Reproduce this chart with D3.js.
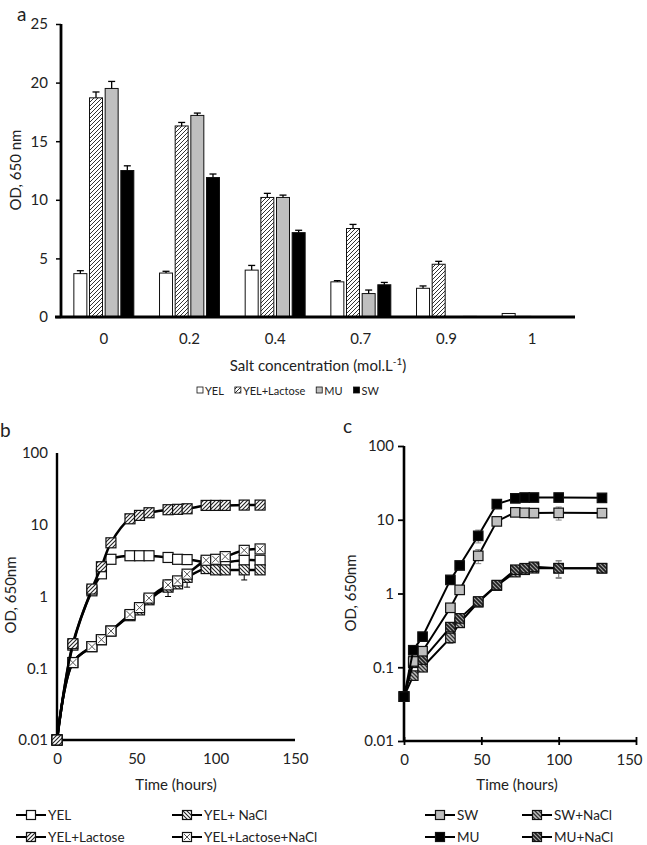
<!DOCTYPE html>
<html><head><meta charset="utf-8">
<script src="https://cdn.jsdelivr.net/npm/d3@7"></script>
<style>
body{margin:0;background:#fff}
svg{display:block}
text{font-family:Lato,"Open Sans",sans-serif;fill:#222}
</style>
</head><body>
<svg id="chart" width="647" height="845"></svg>
<script>
// ---------- Panel a data ----------
const saltLabels = ["0","0.2","0.4","0.7","0.9","1"];
const barSeries = ["YEL","YEL+Lactose","MU","SW"];
const yelBars     = [3.7, 3.75, 4.0, 3.0, 2.45, 0.3];
const yelLacBars  = [18.7, 16.3, 10.2, 7.55, 4.5, 0.05];
const muBars      = [19.5, 17.2, 10.2, 2.0, 0, 0];
const swBars      = [12.5, 11.9, 7.2, 2.75, 0.05, 0];
const yelBarErr    = [0.25, 0.15, 0.4, 0.1, 0.2, 0];
const yelLacBarErr = [0.5, 0.3, 0.35, 0.35, 0.25, 0];
const muBarErr     = [0.6, 0.2, 0.2, 0.3, 0, 0];
const swBarErr     = [0.4, 0.3, 0.2, 0.2, 0, 0];
const barTicks = [0, 5, 10, 15, 20, 25];

// ---------- Panel b data ----------
const timeB = [0,10,22,28,34,46,52,58,70,76,82,94,100,106,118,128];
const yelB        = [0.01,0.21,1.2,2.07,3.3,3.7,3.7,3.7,3.5,3.3,3.27,3.0,2.9,3.0,3.2,3.2];
const yelNaClB    = [0.01,0.12,0.2,0.25,0.33,0.54,0.65,0.9,1.35,1.5,1.85,2.45,2.35,2.35,2.35,2.35];
const yelLacB     = [0.01,0.22,1.27,2.6,5.6,12.1,13.5,14.7,16.2,16.4,16.7,18.6,18.6,18.6,18.8,18.8];
const yelLacNaClB = [0.01,0.12,0.2,0.25,0.33,0.56,0.7,0.95,1.45,1.65,2.05,3.2,3.3,3.6,4.4,4.6];
const yelErrB        = [0,0,0,0,0,0,0,0,0,0,0,0,0,0,1.5,0];
const yelNaClErrB    = [0,0,0,0,0,0,0.08,0.1,0.35,0.2,0.5,0,0,0,0,0];
const yelLacErrB     = [0,0,0,0,0,0,0,0,0,0,0,0,0,0,0,0];
const yelLacNaClErrB = [0,0,0,0,0,0,0,0.05,0,0,0,0,0,0,0,0];

// ---------- Panel c data ----------
const timeC = [0,6,12,30,36,48,60,72,78,84,100,128];
const swC     = [0.04,0.12,0.165,0.64,1.12,3.24,9.5,12.6,12.4,12.3,12.4,12.3];
const muC     = [0.04,0.17,0.26,1.53,2.4,6.05,16.3,19.5,20,20,20,19.8];
const swNaClC = [0.04,0.077,0.1,0.25,0.4,0.76,1.28,1.95,2.1,2.2,2.2,2.2];
const muNaClC = [0.04,0.115,0.127,0.35,0.46,0.78,1.3,2.1,2.2,2.3,2.2,2.2];
const swErrC     = [0,0,0,0.05,0.1,0.7,1.0,0.8,0.6,0,2.5,0];
const muErrC     = [0,0,0,0,0,1.2,1.5,2.0,2.5,0,1.5,0];
const swNaClErrC = [0,0,0,0.04,0,0.08,0,0.15,0,0,0.6,0];
const muNaClErrC = [0,0,0,0,0,0.1,0,0,0,0,0.55,0];

const logTicks = [0.01, 0.1, 1, 10, 100];
const logTickLabels = ["0.01", "0.1", "1", "10", "100"];
const timeTicks = [0, 50, 100, 150];

// ---------- setup ----------
const svg = d3.select("#chart");
const defs = svg.append("defs");
function hatch(id, d, bg, stroke, sw, size) {
  const p = defs.append("pattern").attr("id", id).attr("patternUnits", "userSpaceOnUse")
    .attr("width", size).attr("height", size);
  p.append("rect").attr("width", size).attr("height", size).attr("fill", bg);
  p.append("path").attr("d", d).attr("stroke", stroke).attr("stroke-width", sw).attr("fill", "none");
}
const fwd = s => `M-1,1 l2,-2 M0,${s} l${s},${-s} M${s-1},${s+1} l2,-2`;
const back = s => `M-1,${s-1} l2,2 M0,0 l${s},${s} M${s-1},-1 l2,2`;
hatch("barHatch", fwd(4), "#fff", "#333", 1, 4);
hatch("mkFwd", fwd(4), "#fff", "#222", 1.1, 4);
hatch("mkBack", back(4), "#fff", "#222", 1.1, 4);
hatch("mkSwNa", back(4), "#bfbfbf", "#333", 1.3, 4);
hatch("mkMuNa", back(4), "#1e1e1e", "#a0a0a0", 1.2, 4);

function panelLabel(t, x, y) {
  svg.append("text").attr("x", x).attr("y", y).attr("font-size", 19).text(t);
}

// ================= Panel a =================
const yA = d3.scaleLinear().domain([0, 25]).range([317, 24]);
const x0 = d3.scaleBand().domain(saltLabels).range([61, 575]).paddingInner(0.3).paddingOuter(0.15);
const x1 = d3.scaleBand().domain(barSeries).range([0, x0.bandwidth()]).paddingInner(0.17).paddingOuter(0);
const barVals = [yelBars, yelLacBars, muBars, swBars];
const barErrs = [yelBarErr, yelLacBarErr, muBarErr, swBarErr];
const barFill = {"YEL": "#fff", "YEL+Lactose": "url(#barHatch)", "MU": "#bfbfbf", "SW": "#000"};

panelLabel("a", 17, 21);

const gA = svg.append("g");
barSeries.forEach((s, si) => {
  const rows = saltLabels.map((c, ci) => ({c, v: barVals[si][ci], e: barErrs[si][ci]}));
  gA.selectAll(null).data(rows.filter(d => d.v > 0)).join("rect")
    .attr("x", d => x0(d.c) + x1(s))
    .attr("y", d => yA(d.v))
    .attr("width", x1.bandwidth())
    .attr("height", d => yA(0) - yA(d.v))
    .attr("fill", barFill[s]).attr("stroke", "#111").attr("stroke-width", 1);
  const eg = gA.selectAll(null).data(rows.filter(d => d.e > 0)).join("g");
  eg.append("line")
    .attr("x1", d => x0(d.c) + x1(s) + x1.bandwidth() / 2)
    .attr("x2", d => x0(d.c) + x1(s) + x1.bandwidth() / 2)
    .attr("y1", d => yA(d.v)).attr("y2", d => yA(d.v + d.e))
    .attr("stroke", "#000").attr("stroke-width", 1.3);
  eg.append("line")
    .attr("x1", d => x0(d.c) + x1(s) + x1.bandwidth() / 2 - 3.5)
    .attr("x2", d => x0(d.c) + x1(s) + x1.bandwidth() / 2 + 3.5)
    .attr("y1", d => yA(d.v + d.e)).attr("y2", d => yA(d.v + d.e))
    .attr("stroke", "#000").attr("stroke-width", 1.3);
});

// y axis a
const axA = svg.append("g").attr("transform", "translate(61,0)")
  .call(d3.axisLeft(yA).tickValues(barTicks).tickSize(5).tickPadding(8));
axA.select(".domain").remove();
axA.selectAll(".tick line").attr("stroke", "#000").attr("stroke-width", 1.5);
axA.selectAll("text").attr("font-size", 15).attr("font-family", "Lato").attr("fill", "#222");
svg.append("line").attr("x1", 61).attr("x2", 61).attr("y1", yA(25)).attr("y2", yA(0))
  .attr("stroke", "#000").attr("stroke-width", 2.8);
// x axis a
const axAx = svg.append("g").attr("transform", `translate(0,${yA(0)})`)
  .call(d3.axisBottom(x0).tickSize(0).tickPadding(16));
axAx.select(".domain").remove();
axAx.selectAll("text").attr("font-size", 15).attr("font-family", "Lato").attr("fill", "#222");
svg.append("line").attr("x1", 55).attr("x2", 575).attr("y1", yA(0)).attr("y2", yA(0))
  .attr("stroke", "#000").attr("stroke-width", 2.8);

const salt = svg.append("text").attr("x", 318).attr("y", 371).attr("text-anchor", "middle")
  .attr("font-size", 15);
salt.append("tspan").text("Salt concentration (mol.L");
salt.append("tspan").attr("font-size", 10).attr("dy", -6).text("-1");
salt.append("tspan").attr("dy", 6).text(")");

svg.append("text").attr("transform", "translate(21,170) rotate(-90)").attr("text-anchor", "middle")
  .attr("font-size", 15).text("OD, 650 nm");

// legend a
{
  let lx = 197;
  barSeries.forEach(s => {
    svg.append("rect").attr("x", lx).attr("y", 387).attr("width", 6).attr("height", 6)
      .attr("fill", s === "YEL+Lactose" ? "url(#barHatch)" : barFill[s]).attr("stroke", "#111").attr("stroke-width", 0.8);
    const t = svg.append("text").attr("x", lx + 8).attr("y", 394.5).attr("font-size", 11).text(s);
    lx += 8 + t.node().getComputedTextLength() + 11;
  });
}

// ---------- marker helper ----------
function marker(g, cx, cy, size, style) {
  const h = size / 2;
  const fills = {white: "#fff", fwd: "url(#mkFwd)", back: "url(#mkBack)", xbox: "#fff",
    grey: "#bfbfbf", black: "#000", swna: "url(#mkSwNa)", muna: "url(#mkMuNa)"};
  g.append("rect").attr("x", cx - h).attr("y", cy - h).attr("width", size).attr("height", size)
    .attr("fill", fills[style]).attr("stroke", "#111").attr("stroke-width", 1.2);
  if (style === "xbox") {
    g.append("path").attr("d", `M${cx-h+1.5},${cy-h+1.5}L${cx+h-1.5},${cy+h-1.5}M${cx+h-1.5},${cy-h+1.5}L${cx-h+1.5},${cy+h-1.5}`)
      .attr("stroke", "#555").attr("stroke-width", 1);
  }
}

function errBars(g, xs, ys, times, vals, errs, color) {
  times.forEach((t, i) => {
    if (!errs[i]) return;
    const x = xs(t), lo = Math.max(vals[i] - errs[i], 0.011), hi = vals[i] + errs[i];
    g.append("line").attr("x1", x).attr("x2", x).attr("y1", ys(lo)).attr("y2", ys(hi))
      .attr("stroke", color).attr("stroke-width", 1);
    [lo, hi].forEach(v => g.append("line").attr("x1", x - 3).attr("x2", x + 3)
      .attr("y1", ys(v)).attr("y2", ys(v)).attr("stroke", color).attr("stroke-width", 1));
  });
}

function drawSeries(g, xs, ys, times, vals, errs, style, curve, lw, msize, ecol) {
  const pts = times.map((t, i) => [t, vals[i]]);
  g.append("path").datum(pts)
    .attr("d", d3.line().x(d => xs(d[0])).y(d => ys(d[1])).curve(curve))
    .attr("fill", "none").attr("stroke", "#000").attr("stroke-width", lw);
  errBars(g, xs, ys, times, vals, errs, ecol);
  pts.forEach(p => marker(g, xs(p[0]), ys(p[1]), msize, style));
}

function logAxes(xs, ys, opts) {
  const ay = svg.append("g").attr("transform", `translate(${xs(0)},0)`)
    .call(d3.axisLeft(ys).tickValues(logTicks).tickFormat((d, i) => logTickLabels[i])
      .tickSize(opts.ytick).tickPadding(opts.ypad));
  ay.select(".domain").remove();
  ay.selectAll(".tick line").attr("stroke", "#000").attr("stroke-width", 1.8);
  ay.selectAll("text").attr("font-size", 15).attr("font-family", "Lato").attr("fill", "#222");
  const ax = svg.append("g").attr("transform", `translate(0,${ys(0.01)})`)
    .call(d3.axisBottom(xs).tickValues(timeTicks).tickSize(opts.xtick).tickPadding(opts.xpad));
  ax.select(".domain").remove();
  ax.selectAll(".tick line").attr("stroke", "#000").attr("stroke-width", 1.8).attr("y1", -opts.xtick);
  ax.selectAll("text").attr("font-size", 15).attr("font-family", "Lato").attr("fill", "#222");
  if (opts.lastShift) {
    ax.selectAll(".tick text").filter(d => d === 150).attr("dx", opts.lastShift);
  }
  svg.append("line").attr("x1", xs(0)).attr("x2", xs(0)).attr("y1", ys(100)).attr("y2", ys(0.01))
    .attr("stroke", "#000").attr("stroke-width", opts.lw);
  svg.append("line").attr("x1", xs(0)).attr("x2", xs(150)).attr("y1", ys(0.01)).attr("y2", ys(0.01))
    .attr("stroke", "#000").attr("stroke-width", opts.lw);
}

function legendItem(x, y, style, label) {
  const g = svg.append("g");
  g.append("line").attr("x1", x - 15).attr("x2", x + 15).attr("y1", y).attr("y2", y)
    .attr("stroke", "#000").attr("stroke-width", 2);
  marker(g, x, y, 9, style);
  g.append("text").attr("x", x + 17).attr("y", y + 4.5).attr("font-size", 13.5).text(label);
}

// ================= Panel b =================
const xB = d3.scaleLinear().domain([0, 150]).range([57, 295]);
const yB = d3.scaleLog().domain([0.01, 100]).range([740, 453]);
panelLabel("b", 0, 437);
logAxes(xB, yB, {ytick: 0, ypad: 9, xtick: 0, xpad: 13, lw: 2.4});
const gB = svg.append("g");
const smooth = d3.curveCatmullRom.alpha(0.5);
drawSeries(gB, xB, yB, timeB, yelB, yelErrB, "white", smooth, 2.5, 10, "#000");
drawSeries(gB, xB, yB, timeB, yelNaClB, yelNaClErrB, "back", smooth, 2.5, 10, "#000");
drawSeries(gB, xB, yB, timeB, yelLacNaClB, yelLacNaClErrB, "xbox", smooth, 2.5, 10, "#000");
drawSeries(gB, xB, yB, timeB, yelLacB, yelLacErrB, "fwd", smooth, 2.5, 10, "#000");
svg.append("text").attr("x", 176).attr("y", 790).attr("text-anchor", "middle").attr("font-size", 15).text("Time (hours)");
svg.append("text").attr("transform", "translate(16,595) rotate(-90)").attr("text-anchor", "middle")
  .attr("font-size", 15).text("OD, 650nm");
legendItem(31, 815, "white", "YEL");
legendItem(187, 815, "back", "YEL+ NaCl");
legendItem(31, 837, "fwd", "YEL+Lactose");
legendItem(187, 837, "xbox", "YEL+Lactose+NaCl");

// ================= Panel c =================
const xC = d3.scaleLinear().domain([0, 150]).range([404, 636]);
const yC = d3.scaleLog().domain([0.01, 100]).range([741, 446]);
panelLabel("c", 343, 433);
logAxes(xC, yC, {ytick: 6, ypad: 4, xtick: 4, xpad: 9, lw: 2.6, lastShift: -7});
const gC = svg.append("g");
const lin = d3.curveLinear;
drawSeries(gC, xC, yC, timeC, swNaClC, swNaClErrC, "swna", lin, 2, 9.5, "#888");
drawSeries(gC, xC, yC, timeC, muNaClC, muNaClErrC, "muna", lin, 2, 9.5, "#888");
drawSeries(gC, xC, yC, timeC, swC, swErrC, "grey", lin, 2, 9.5, "#888");
drawSeries(gC, xC, yC, timeC, muC, muErrC, "black", lin, 2, 9.5, "#888");
svg.append("text").attr("x", 517).attr("y", 790).attr("text-anchor", "middle").attr("font-size", 15).text("Time (hours)");
svg.append("text").attr("transform", "translate(356,593) rotate(-90)").attr("text-anchor", "middle")
  .attr("font-size", 15).text("OD, 650nm");
legendItem(440, 815, "grey", "SW");
legendItem(537, 815, "swna", "SW+NaCl");
legendItem(440, 837, "black", "MU");
legendItem(537, 837, "muna", "MU+NaCl");
</script>
</body></html>
